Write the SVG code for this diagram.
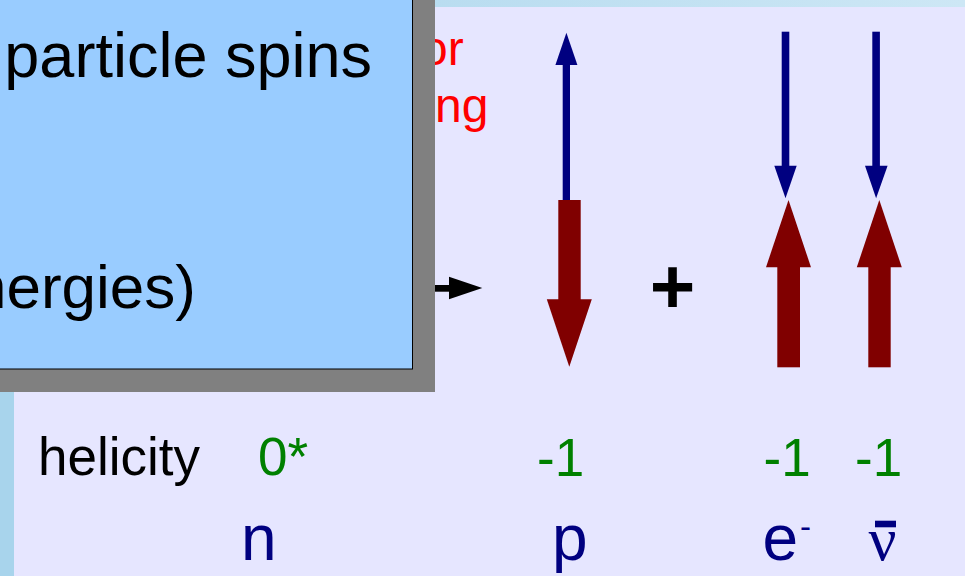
<svg xmlns="http://www.w3.org/2000/svg" width="965" height="576" viewBox="0 0 965 576">
  <defs>
    <linearGradient id="topStrip" x1="0" y1="0" x2="1" y2="0">
      <stop offset="0" stop-color="#A8D4EC"/>
      <stop offset="1" stop-color="#CDE7F5"/>
    </linearGradient>
  </defs>
  <style>
    .sans { font-family: "Liberation Sans", Arial, sans-serif; }
    .serif { font-family: "Liberation Serif", "Times New Roman", serif; }
    .big { font-size: 63px; fill: #000000; }
    .note { font-size: 48px; fill: #FF0000; }
    .hel { font-size: 53px; fill: #008000; }
    .lab { font-size: 64px; fill: #000080; }
    .blue { fill: #000080; }
    .red { fill: #800000; }
  </style>

  <!-- background -->
  <rect x="0" y="0" width="965" height="576" fill="#E6E6FF"/>
  <rect x="0" y="0" width="14" height="576" fill="#A8D4EC"/>
  <rect x="0" y="0" width="965" height="7" fill="url(#topStrip)"/>

  <!-- red note text (partly hidden behind the box) -->
  <g id="note">
    <text class="sans note" x="421" y="65">or</text>
    <text class="sans note" x="435" y="122">ng</text>
  </g>

  <!-- connectors -->
  <g id="connectors">
    <g id="reaction-arrow">
      <rect x="425" y="285" width="25" height="6.7" fill="#000000"/>
      <polygon points="449,276.7 482.3,288 449,299.3" fill="#000000"/>
    </g>
    <g id="p-momentum" class="blue">
      <rect x="562.7" y="64" width="7.3" height="136"/>
      <polygon points="566.4,32.7 577.4,65 555.4,65"/>
    </g>
    <g id="p-spin" class="red">
      <rect x="558.3" y="200" width="22.4" height="100"/>
      <polygon points="546.8,299.3 591.8,299.3 569.3,366.7"/>
    </g>
    <g id="e-momentum" class="blue">
      <rect x="781.7" y="31.7" width="7.6" height="135"/>
      <polygon points="774.3,165.7 796.7,165.7 785.5,198.3"/>
    </g>
    <g id="e-spin" class="red">
      <rect x="777.3" y="266.5" width="22.7" height="100.8"/>
      <polygon points="788.5,200 811,267.3 766,267.3"/>
    </g>
    <g id="nu-momentum" class="blue">
      <rect x="872.3" y="31.7" width="7.6" height="135"/>
      <polygon points="865,165.7 887.6,165.7 876.1,198.3"/>
    </g>
    <g id="nu-spin" class="red">
      <rect x="868.3" y="266.5" width="22.4" height="100.8"/>
      <polygon points="879.3,200 901.8,267.3 856.8,267.3"/>
    </g>
  </g>

  <!-- callout box with shadow -->
  <g id="callout">
    <rect x="-10" y="-10" width="445" height="402" fill="#808080"/>
    <rect x="-10" y="-10" width="422.5" height="379" fill="#99CCFF" stroke="#000000" stroke-width="1"/>
    <text class="sans big" x="372" y="77" text-anchor="end">particle spins</text>
    <text class="sans big" x="196" y="308" text-anchor="end" style="font-size:62px">nergies)</text>
  </g>

  <!-- plus -->
  <g id="plus">
    <text class="sans" x="672.5" y="313" text-anchor="middle" style="font-size:78px;font-weight:bold;fill:#000000">+</text>
  </g>

  <!-- helicity row -->
  <g id="helicity">
    <text class="sans" x="38" y="475" style="font-size:53px;fill:#000000">helicity</text>
    <text class="sans hel" x="258" y="475">0*</text>
    <text class="sans hel" x="537" y="476">-1</text>
    <text class="sans hel" x="763.6" y="476">-1</text>
    <text class="sans hel" x="855" y="476">-1</text>
  </g>

  <!-- particle labels -->
  <g id="node-n"><text class="sans lab" x="241" y="560">n</text></g>
  <g id="node-p"><text class="sans lab" x="552" y="560">p</text></g>
  <g id="node-e"><text class="sans lab" x="762.4" y="560">e<tspan dx="2" dy="-22" style="font-size:33px">-</tspan></text></g>
  <g id="node-nu">
    <text class="serif lab" x="882.5" y="560" text-anchor="middle" style="font-size:62px">ν</text>
    <rect x="875" y="520.7" width="21" height="6.6" fill="#000080"/>
  </g>
</svg>
